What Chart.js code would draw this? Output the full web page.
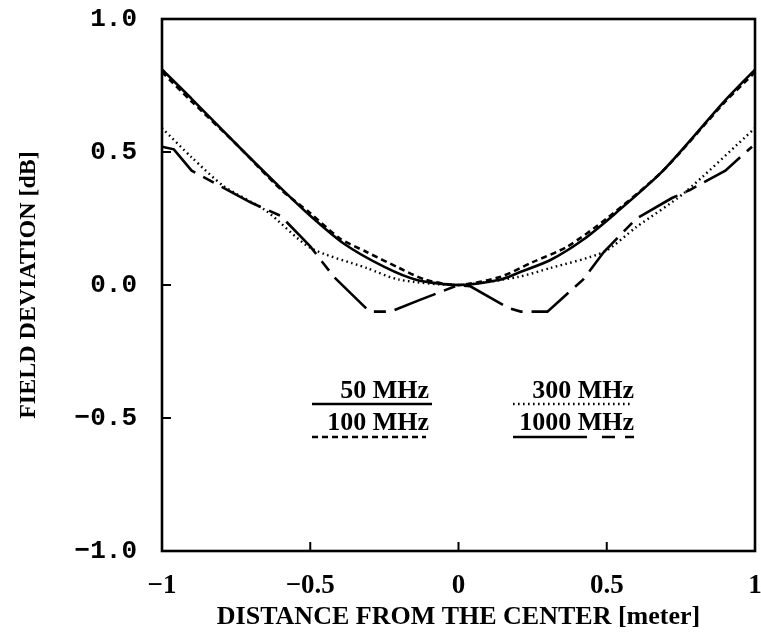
<!DOCTYPE html>
<html>
<head>
<meta charset="utf-8">
<script src="https://cdn.jsdelivr.net/npm/chart.js@4.4.1/dist/chart.umd.min.js"></script>
<style>
  html, body { margin: 0; padding: 0; background: #ffffff; }
  canvas { display: block; }
</style>
</head>
<body>
<canvas id="c" width="761" height="637"></canvas>
<script>
// ---------- data ----------
const seriesNames = ["50 MHz", "100 MHz", "300 MHz", "1000 MHz"];

const x50  = [-1, -0.9, -0.75, -0.6, -0.5, -0.39, -0.25, -0.14, 0, 0.14, 0.2, 0.31, 0.42, 0.53, 0.69, 0.9, 1];
const y50  = [0.81, 0.70, 0.53, 0.365, 0.26, 0.158, 0.068, 0.019, 0, 0.02, 0.045, 0.094, 0.17, 0.27, 0.43, 0.695, 0.81];

const x100 = [-1, -0.9, -0.75, -0.6, -0.5, -0.4, -0.31, -0.2, -0.11, 0, 0.14, 0.25, 0.365, 0.5, 0.69, 0.9, 1];
const y100 = [0.80, 0.69, 0.53, 0.36, 0.27, 0.175, 0.124, 0.064, 0.019, 0, 0.03, 0.086, 0.143, 0.25, 0.43, 0.69, 0.80];

const x300 = [-1, -0.9, -0.79, -0.65, -0.5, -0.31, -0.2, 0, 0.2, 0.31, 0.49, 0.6, 0.76, 1];
const y300 = [0.59, 0.48, 0.37, 0.28, 0.14, 0.064, 0.02, 0, 0.03, 0.064, 0.124, 0.218, 0.345, 0.59];

const x1000 = [-1, -0.96, -0.9, -0.8, -0.7, -0.6, -0.5, -0.42, -0.3, -0.23, -0.13, 0, 0.04, 0.17, 0.21, 0.3, 0.42, 0.49, 0.6, 0.72, 0.78, 0.9, 0.99];
const y1000 = [0.52, 0.51, 0.43, 0.37, 0.31, 0.26, 0.145, 0.03, -0.10, -0.10, -0.056, 0, -0.005, -0.087, -0.10, -0.10, 0.02, 0.124, 0.25, 0.327, 0.357, 0.43, 0.52];

const xTickValues = [-1, -0.5, 0, 0.5, 1];
const xTickLabels = ["\u22121", "\u22120.5", "0", "0.5", "1"];
const yTickValues = [-1, -0.5, 0, 0.5, 1];
const yTickLabels = ["\u22121.0", "\u22120.5", "0.0", "0.5", "1.0"];

const xTitle = "DISTANCE FROM THE CENTER [meter]";
const yTitle = "FIELD DEVIATION [dB]";

// ---------- helpers ----------
function pts(xs, ys) { return xs.map((x, i) => ({ x: x, y: ys[i] })); }
function labelFor(values, labels, v) {
  const i = values.findIndex(t => Math.abs(t - v) < 1e-9);
  return i >= 0 ? labels[i] : "";
}
function noOverflow(s) { s.paddingTop = 0; s.paddingBottom = 0; s.paddingLeft = 0; s.paddingRight = 0; }

const serif = "'Liberation Serif', 'DejaVu Serif', serif";
const mono = "'Liberation Mono', 'DejaVu Sans Mono', monospace";

const styles = [
  { borderDash: [], legendDash: [], borderWidth: 2.6 },
  { borderDash: [6, 4], legendDash: [6, 4], borderWidth: 2.6 },
  { borderDash: [1.6, 3.4], legendDash: [1.6, 3.4], borderWidth: 2.4 },
  { borderDash: [44, 9, 12, 9], legendDash: [74, 15, 13, 10], borderWidth: 2.6 }
];

const datasets = [pts(x50, y50), pts(x100, y100), pts(x300, y300), pts(x1000, y1000)].map((d, i) => ({
  label: seriesNames[i],
  data: d,
  borderColor: "#000",
  backgroundColor: "#000",
  borderWidth: styles[i].borderWidth,
  borderDash: styles[i].borderDash,
  pointRadius: 0,
  fill: false,
  tension: i === 3 ? 0 : 0.25,
  borderCapStyle: "butt"
}));

// frame + inward ticks + in-plot legend
const framePlugin = {
  id: "frame",
  afterDatasetsDraw(chart) {
    const { ctx, chartArea: a, scales } = chart;
    ctx.save();
    ctx.strokeStyle = "#000";
    ctx.lineWidth = 2.6;
    ctx.setLineDash([]);
    ctx.strokeRect(a.left, a.top, a.right - a.left, a.bottom - a.top);
    ctx.lineWidth = 2;
    [-0.5, 0, 0.5].forEach(v => {
      const px = scales.x.getPixelForValue(v);
      ctx.beginPath(); ctx.moveTo(px, a.bottom); ctx.lineTo(px, a.bottom - 9); ctx.stroke();
      const py = scales.y.getPixelForValue(v);
      ctx.beginPath(); ctx.moveTo(a.left, py); ctx.lineTo(a.left + 9, py); ctx.stroke();
    });

    // legend: text with a line sample drawn under it
    const entries = [
      { i: 0, tx: 429, ty: 398, lx0: 312, lx1: 432, ly: 404 },
      { i: 1, tx: 429, ty: 430, lx0: 312, lx1: 426, ly: 437 },
      { i: 2, tx: 634, ty: 398, lx0: 513, lx1: 631, ly: 404 },
      { i: 3, tx: 634, ty: 430, lx0: 513, lx1: 634, ly: 437 }
    ];
    ctx.font = "bold 26px " + serif;
    ctx.fillStyle = "#000";
    ctx.textAlign = "right";
    ctx.textBaseline = "alphabetic";
    entries.forEach(e => {
      const ds = chart.data.datasets[e.i];
      ctx.fillText(ds.label, e.tx, e.ty);
      ctx.beginPath();
      ctx.lineWidth = ds.borderWidth;
      ctx.setLineDash(styles[e.i].legendDash);
      ctx.moveTo(e.lx0, e.ly);
      ctx.lineTo(e.lx1, e.ly);
      ctx.stroke();
    });
    ctx.restore();
  }
};

new Chart(document.getElementById("c"), {
  type: "line",
  data: { datasets: datasets },
  plugins: [framePlugin],
  options: {
    responsive: false,
    devicePixelRatio: 1,
    animation: false,
    layout: { padding: { left: 0, right: 6, top: 19, bottom: 0 } },
    plugins: { legend: { display: false }, tooltip: { enabled: false } },
    scales: {
      x: {
        type: "linear",
        min: -1, max: 1,
        afterBuildTicks: s => { s.ticks = xTickValues.map(v => ({ value: v })); },
        afterFit: s => { s.height = 86; noOverflow(s); },
        grid: { display: false, drawTicks: false },
        border: { display: false },
        ticks: {
          color: "#000",
          padding: 19,
          maxRotation: 0,
          font: { family: serif, size: 27, weight: "bold" },
          callback: v => labelFor(xTickValues, xTickLabels, v)
        },
        title: {
          display: true, text: xTitle, color: "#000",
          font: { family: serif, size: 26, weight: "bold" },
          padding: { top: 0, bottom: 4 }
        }
      },
      y: {
        type: "linear",
        min: -1, max: 1,
        afterBuildTicks: s => { s.ticks = yTickValues.map(v => ({ value: v })); },
        afterFit: s => { s.width = 162; noOverflow(s); },
        grid: { display: false, drawTicks: false },
        border: { display: false },
        ticks: {
          color: "#000",
          padding: 25,
          font: { family: mono, size: 26, weight: "bold" },
          callback: v => labelFor(yTickValues, yTickLabels, v)
        },
        title: {
          display: true, text: yTitle, color: "#000",
          font: { family: serif, size: 24, weight: "bold" },
          padding: { top: 14, bottom: 0 }
        }
      }
    }
  }
});
</script>
</body>
</html>
